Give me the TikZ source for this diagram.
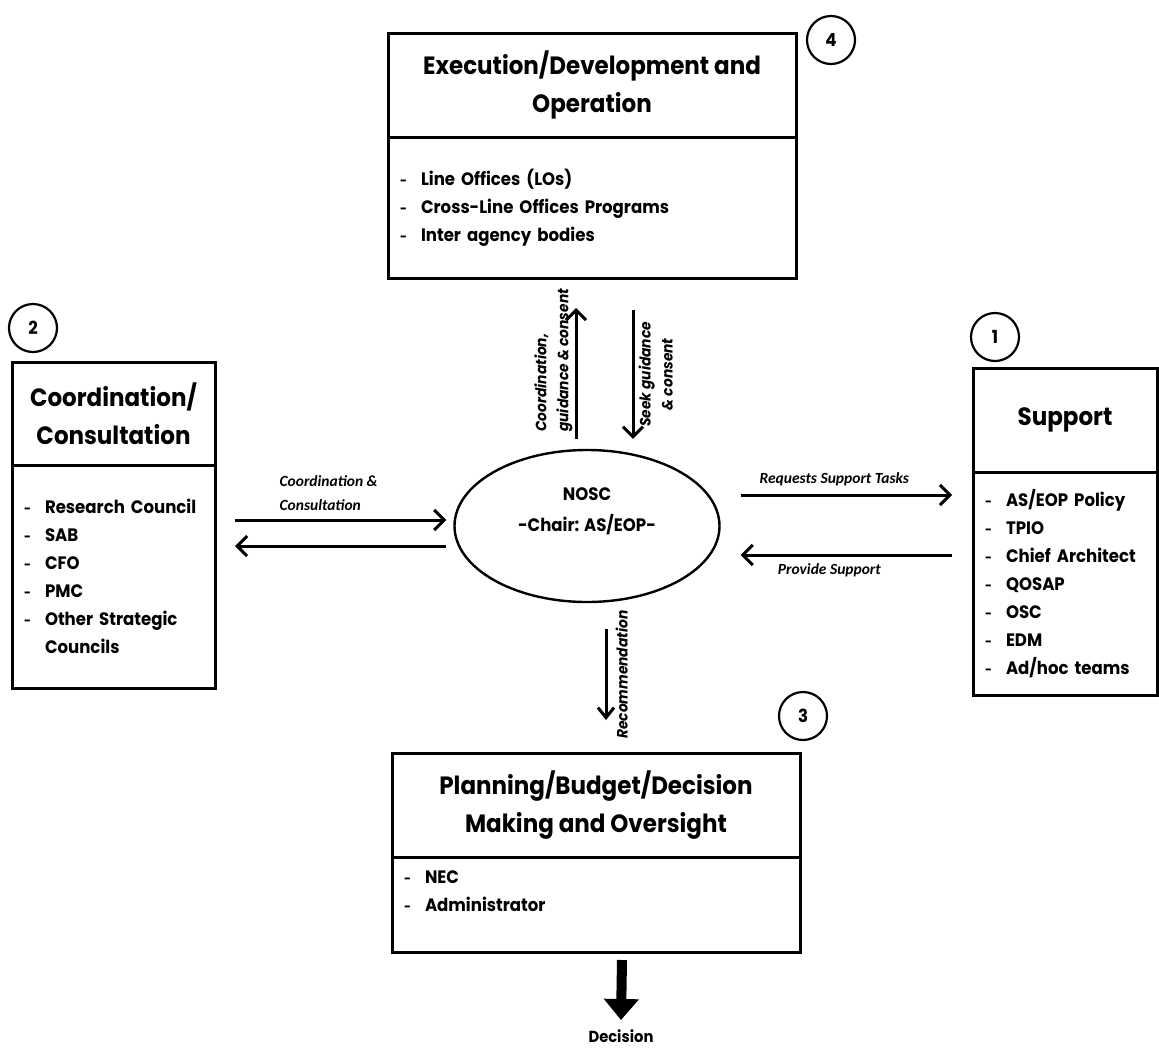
\documentclass[tikz,border=0pt]{standalone}
\usepackage{fontspec}
\usepackage{tikz}
\usetikzlibrary{positioning,arrows.meta,shapes.geometric}

\newfontfamily\boxfont{Poppins}[FakeStretch=0.92]
\newfontfamily\labelfont{Carlito}
\newcommand{\bul}{\makebox[21pt][l]{\fontsize{13}{13}\selectfont -}}

\tikzset{
  titlebox/.style={draw, line width=3pt, outer sep=0pt, align=center, inner sep=0pt,
    font=\boxfont\bfseries\fontsize{25}{38}\selectfont},
  listbox/.style={draw, line width=3pt, outer sep=0pt, align=left, inner xsep=12pt,
    font=\boxfont\bfseries\fontsize{18}{28}\selectfont},
  numcircle/.style={circle, draw, line width=2.2pt, minimum size=48pt, inner sep=0pt,
    font=\boxfont\bfseries\fontsize{18}{18}\selectfont},
  flow/.style={line width=3pt, -{Straight Barb[length=10pt,width=20pt]}},
  flowlabel/.style={font=\labelfont\bfseries\itshape\fontsize{15.5}{24}\selectfont},
  sidelabel/.style={rotate=90, inner sep=2pt, font=\boxfont\bfseries\itshape\fontsize{15}{22}\selectfont},
}

\begin{document}
\begin{tikzpicture}[x=1pt, y=-1pt]
    \useasboundingbox (0,0) rectangle (1159,1050);

    % Execution / Development (4)
    \node[titlebox, minimum width=408pt, minimum height=104pt] (exec) at (592,85)
        {Execution/Development and\\Operation};
    \node[listbox, below=0pt of exec, text width=384pt, minimum height=141pt] (execlist)
        {\bul Line Offices (LOs)\\ \bul Cross-Line Offices Programs\\ \bul Inter agency bodies};
    \node[numcircle] (n4) at (831,40) {4};

    % Coordination / Consultation (2)
    \node[titlebox, minimum width=203pt, minimum height=103pt] (coord) at (113.5,413.5)
        {Coordination/\\Consultation};
    \node[listbox, below=0pt of coord, text width=179pt, minimum height=223pt] (coordlist)
        {\bul Research Council\\ \bul SAB\\ \bul CFO\\ \bul PMC\\ \bul Other Strategic\\ \hspace*{21pt}Councils};
    \node[numcircle] (n2) at (33,328) {2};

    % Support (1)
    \node[titlebox, minimum width=184pt, minimum height=104pt] (support) at (1065,420) {Support};
    \node[listbox, below=0pt of support, text width=160pt, minimum height=223pt] (suplist)
        {\bul AS/EOP Policy\\ \bul TPIO\\ \bul Chief Architect\\ \bul QOSAP\\ \bul OSC\\ \bul EDM\\ \bul Ad/hoc teams};
    \node[numcircle] (n1) at (995,337) {1};

    % Planning / Budget (3)
    \node[titlebox, minimum width=408pt, minimum height=104pt] (plan) at (596,805)
        {Planning/Budget/Decision\\Making and Oversight};
    \node[listbox, below=0pt of plan, text width=384pt, minimum height=95pt, text depth=54pt] (planlist)
        {\bul NEC\\ \bul Administrator};
    \node[numcircle] (n3) at (803,716) {3};

    % NOSC
    \node[ellipse, draw, line width=2.4pt, minimum width=265pt, minimum height=152pt, align=center,
        text depth=32pt, font=\boxfont\bfseries\fontsize{18}{31}\selectfont] (nosc) at (587,526)
        {NOSC\\-Chair: AS/EOP-};

    % Arrows
    \draw[flow] ([xshift=20pt,yshift=-55pt]coordlist.north east) --
        node[flowlabel, above=5pt, xshift=-12pt, align=left] {Coordination \&\\Consultation}
        ([xshift=-7pt,yshift=6pt]nosc.west);
    \draw[flow] ([xshift=-7pt,yshift=-20pt]nosc.west) -- ([xshift=20pt,yshift=-81pt]coordlist.north east);
    \draw[flow] ([xshift=20pt,yshift=31pt]nosc.east) --
        node[flowlabel, above=4pt, xshift=-12pt] {Requests Support Tasks}
        ([xshift=-21pt,yshift=-23pt]suplist.north west);
    \draw[flow] ([xshift=-21pt,yshift=-83pt]suplist.north west) --
        node[flowlabel, below=4pt, xshift=-17pt] {Provide Support}
        ([xshift=20pt,yshift=-29pt]nosc.east);
    \draw[flow] ([xshift=-11pt,yshift=10pt]nosc.north) --
        node[sidelabel, pos=0.6, anchor=south, align=left] {Coordination,\\guidance \& consent}
        ([xshift=-16pt,yshift=-30pt]execlist.south);
    \draw[flow] ([xshift=41pt,yshift=-32pt]execlist.south) --
        node[sidelabel, midway, anchor=north, inner sep=4pt, align=center] {Seek guidance\\\& consent}
        ([xshift=46pt,yshift=10pt]nosc.north);
    \draw[flow, -{Straight Barb[length=10pt,width=16pt]}] ([xshift=19pt,yshift=-26pt]nosc.south) --
        node[sidelabel, midway, anchor=north, inner sep=8pt] {Recommendation}
        ([xshift=10pt,yshift=33pt]plan.north);

    % Decision
    \node[font=\boxfont\bfseries\fontsize{16}{16}\selectfont] (decision) at (621,1036) {Decision};
    \draw[line width=10pt, -{Triangle[length=21pt,width=34pt]}] ([xshift=26pt,yshift=-8pt]planlist.south)
        -- ([yshift=6pt]decision.north);
\end{tikzpicture}
\end{document}
